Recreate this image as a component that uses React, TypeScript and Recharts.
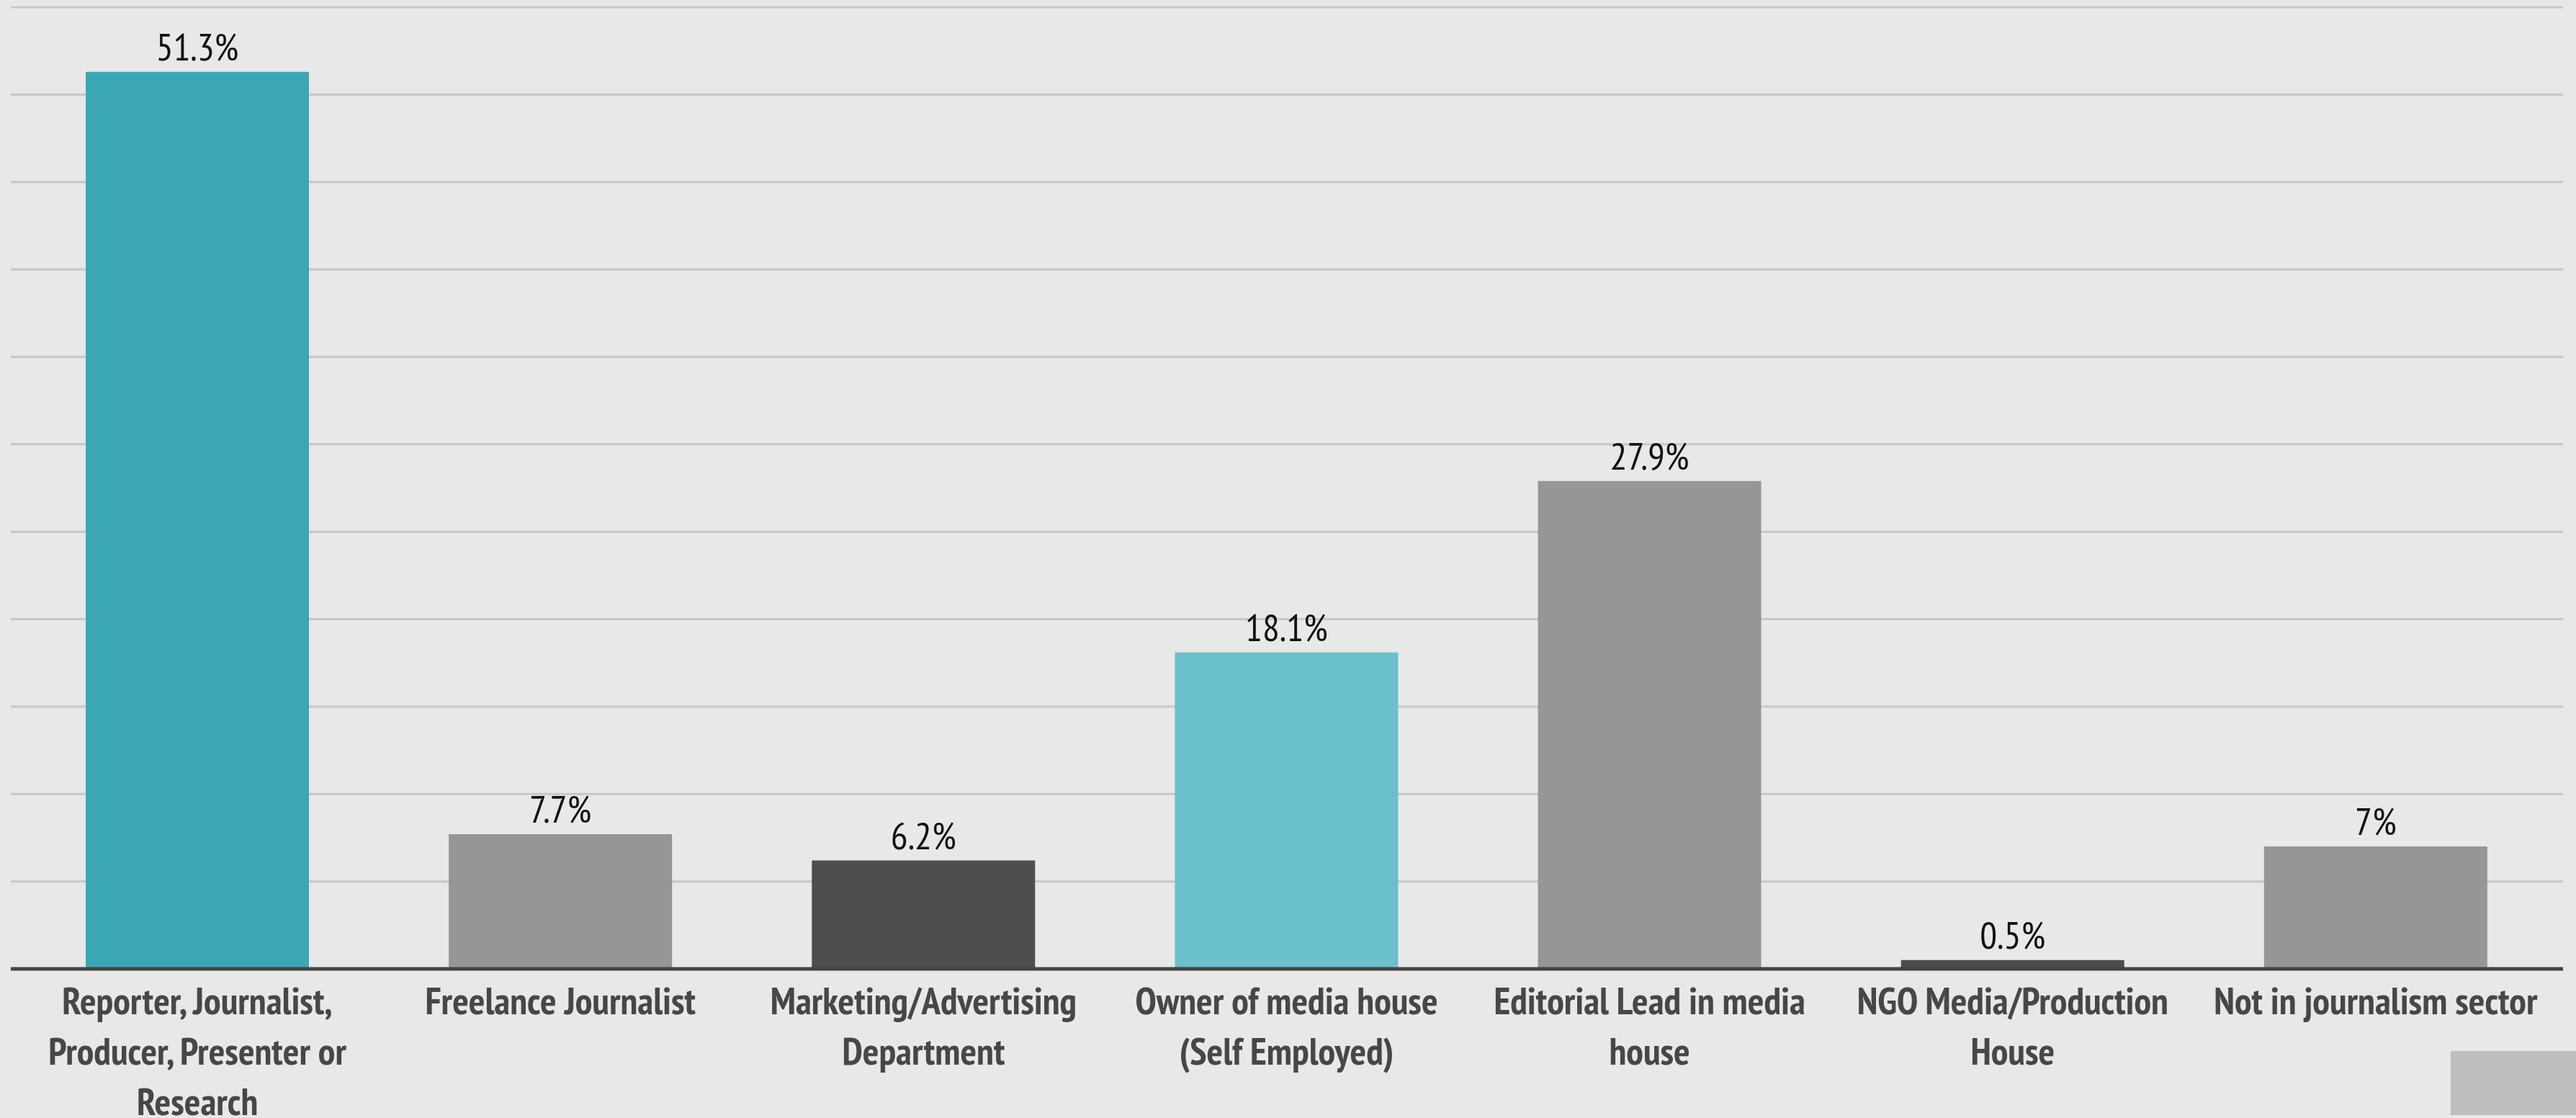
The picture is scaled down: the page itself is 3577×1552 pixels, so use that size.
import React from "react";
import { BarChart, Bar, XAxis, YAxis, CartesianGrid, Cell, LabelList } from "recharts";

const categories = [
  "Reporter, Journalist, Producer, Presenter or Research",
  "Freelance Journalist",
  "Marketing/Advertising Department",
  "Owner of media house (Self Employed)",
  "Editorial Lead in media house",
  "NGO Media/Production House",
  "Not in journalism sector",
];
const categoryLines: string[][] = [
  ["Reporter, Journalist,", "Producer, Presenter or", "Research"],
  ["Freelance Journalist"],
  ["Marketing/Advertising", "Department"],
  ["Owner of media house", "(Self Employed)"],
  ["Editorial Lead in media", "house"],
  ["NGO Media/Production", "House"],
  ["Not in journalism sector"],
];
const values = [51.3, 7.7, 6.2, 18.1, 27.9, 0.5, 7];
const valueLabels = ["51.3%", "7.7%", "6.2%", "18.1%", "27.9%", "0.5%", "7%"];
const barColors = ["#3ba7b5", "#969696", "#4d4d4d", "#6ac0cb", "#969696", "#4d4d4d", "#969696"];
const yTicks = [0, 5, 10, 15, 20, 25, 30, 35, 40, 45, 50, 55];

const data = categories.map((c, i) => ({ name: c, value: values[i], label: valueLabels[i] }));

const FONT = "'PT Sans Narrow', 'Fira Sans Condensed', 'Roboto Condensed', sans-serif";

const CategoryTick = (props: any) => {
  const { x, y, index } = props;
  const lines = categoryLines[index] || [];
  return (
    <text x={x} y={y + 63} textAnchor="middle" fill="#474747" fontFamily={FONT} fontWeight={700} fontSize={53}>
      {lines.map((l, i) => (
        <tspan key={i} x={x} dy={i === 0 ? 0 : 70}>{l}</tspan>
      ))}
    </text>
  );
};

export default function App() {
  return (
    <div style={{ position: "fixed", left: 0, top: 0, width: 3577, height: 1552, background: "#e7e8e7", overflow: "hidden" }}>
      <BarChart
        width={3577}
        height={1552}
        data={data}
        margin={{ top: 10, right: 18, left: 15, bottom: 0 }}
      >
        <CartesianGrid vertical={false} stroke="#c6c7c6" strokeWidth={3} />
        <YAxis hide domain={[0, 55]} ticks={yTicks} />
        <XAxis
          dataKey="name"
          interval={0}
          height={207}
          padding={{ left: 7, right: 8 }}
          axisLine={{ stroke: "#444444", strokeWidth: 5 }}
          tickLine={false}
          tickSize={0}
          tickMargin={0}
          tick={<CategoryTick />}
        />
        <Bar dataKey="value" barSize={310} isAnimationActive={false}>
          {data.map((d, i) => (
            <Cell key={i} fill={barColors[i]} />
          ))}
          <LabelList
            dataKey="label"
            position="top"
            offset={16}
            fill="#111111"
            fontFamily={FONT}
            fontSize={53}
          />
        </Bar>
      </BarChart>
      <div style={{ position: "absolute", left: 3403, top: 1459, width: 174, height: 89, background: "#bebebe" }} />
    </div>
  );
}
